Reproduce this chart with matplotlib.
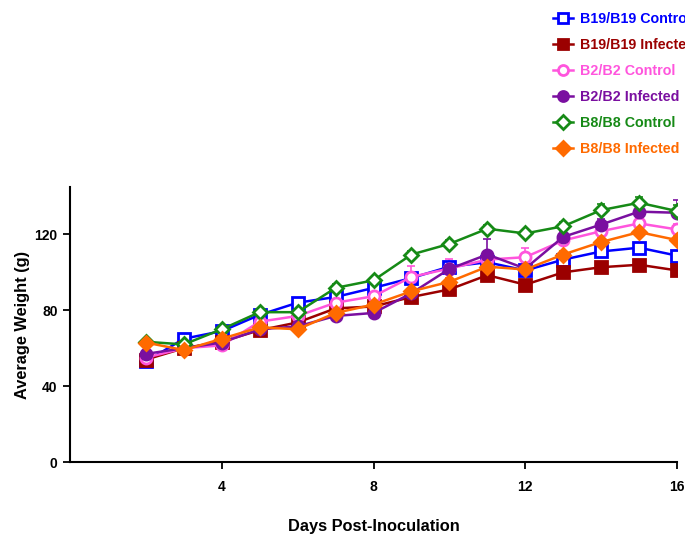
import matplotlib
matplotlib.use("Agg")
import matplotlib.pyplot as plt
from matplotlib.transforms import Bbox, TransformedBbox

plt.rcParams["font.family"] = ["Liberation Sans", "DejaVu Sans"]

days = [2, 3, 4, 5, 6, 7, 8, 9, 10, 11, 12, 13, 14, 15, 16]

b19_control = [53, 65, 69, 77.6, 84, 87, 91.8, 97, 103, 105.3, 101, 106.7, 111, 113, 108.8]
b19_infected = [54, 60, 63.5, 69.5, 73.6, 81, 82, 87, 91, 98.5, 93.5, 100, 102.7, 104, 101]
b2_control = [55, 60, 61.5, 74, 77, 84, 87.4, 97.6, 102, 106.7, 108, 116.8, 121.7, 125.8, 122.6]
b2_infected = [57, 60, 63, 70, 71.5, 77, 78.6, 89, 101.8, 109.4, 102, 118.7, 125.2, 132, 131.4]
b8_control = [63.4, 62, 70, 79, 79, 91.8, 95.8, 109.4, 115, 123, 120.5, 124.3, 132.8, 136.7, 132.3]
b8_infected = [63, 59, 65, 71, 70, 78.6, 83, 90, 95, 103, 101.5, 109.4, 116, 121.2, 117]

# upper error bars (SEM), read roughly from the caps
b19_control_err = [1, 1, 1.5, 1.5, 1.5, 2, 2, 2, 2, 2, 2, 2, 2, 2, 2]
b19_infected_err = [1, 1, 1, 1.5, 1.5, 1.5, 2, 2, 2, 2, 2, 2, 2, 2, 2]
b2_control_err = [1, 1, 1.5, 1.5, 2, 2, 2, 6, 5, 3, 5, 10, 3, 3, 3]
b2_infected_err = [1, 1, 1.5, 1.5, 2, 2, 2, 2, 3, 8, 3, 3, 3, 3, 7]
b8_control_err = [1, 1, 1.5, 1.5, 1.5, 2, 2, 2, 2, 2, 2, 2, 3, 3, 3]
b8_infected_err = [1, 1, 1, 1.5, 1.5, 1.5, 2, 2, 2, 2, 2, 2, 2, 2, 2]

series = [
    ("B19/B19 Control", b19_control, b19_control_err, "#0000FF", "s", "none"),
    ("B19/B19 Infected", b19_infected, b19_infected_err, "#9B0000", "s", "#9B0000"),
    ("B2/B2 Control", b2_control, b2_control_err, "#FF55DD", "o", "none"),
    ("B2/B2 Infected", b2_infected, b2_infected_err, "#7A0FA0", "o", "#7A0FA0"),
    ("B8/B8 Control", b8_control, b8_control_err, "#168A16", "D", "none"),
    ("B8/B8 Infected", b8_infected, b8_infected_err, "#FF6A00", "D", "#FF6A00"),
]

fig = plt.figure(figsize=(6.98, 5.35), dpi=100)
ax = fig.add_axes([0.1003, 0.1364, 0.8697, 0.5141])

handles = []
for name, vals, err, col, mk, face in series:
    ms = 8 if mk != "D" else 7.5
    ax.errorbar(days, vals, yerr=[[0] * len(err), err], fmt="none",
                ecolor=col, elinewidth=1.2, capsize=3, capthick=1.2, zorder=2)
    h, = ax.plot(days, vals, color=col, lw=1.8, marker=mk, markersize=ms,
                 markerfacecolor=face if face != "none" else "white",
                 markeredgecolor=col, markeredgewidth=2, label=name, zorder=3)
    handles.append(h)

ax.set_xlim(0, 16)
ax.set_ylim(0, 145)
ax.set_xticks([4, 8, 12, 16])
ax.set_yticks([0, 40, 80, 120])
ax.spines["top"].set_visible(False)
ax.spines["right"].set_visible(False)
ax.spines["left"].set_linewidth(1.5)
ax.spines["bottom"].set_linewidth(1.5)
ax.tick_params(axis="both", direction="out", length=5, width=1.3)
ax.tick_params(axis="x", pad=8)
ax.tick_params(axis="y", pad=4)
for lab in ax.get_xticklabels() + ax.get_yticklabels():
    lab.set_fontweight("bold")
    lab.set_fontsize(10)

ax.set_xlabel("Days Post-Inoculation", fontsize=11.8, fontweight="bold", labelpad=18)
ax.set_ylabel("Average Weight (g)", fontsize=11.8, fontweight="bold", labelpad=3)

leg = fig.legend(handles=handles, loc="upper left", bbox_to_anchor=(0.784, 0.989),
                 frameon=False, fontsize=10.3, handlelength=1.4, handletextpad=0.5,
                 labelspacing=0.84, borderaxespad=0, borderpad=0.4,
                 markerscale=0.9)
# the original picture is cut off a little before its right edge
clip = TransformedBbox(Bbox([[0, 0], [685 / 698, 1]]), fig.transFigure)
for txt, s in zip(leg.get_texts(), series):
    txt.set_color(s[3])
    txt.set_fontweight("bold")
    txt.set_clip_on(True)
    txt.set_clip_box(clip)

fig.savefig("out.png", dpi=100)
